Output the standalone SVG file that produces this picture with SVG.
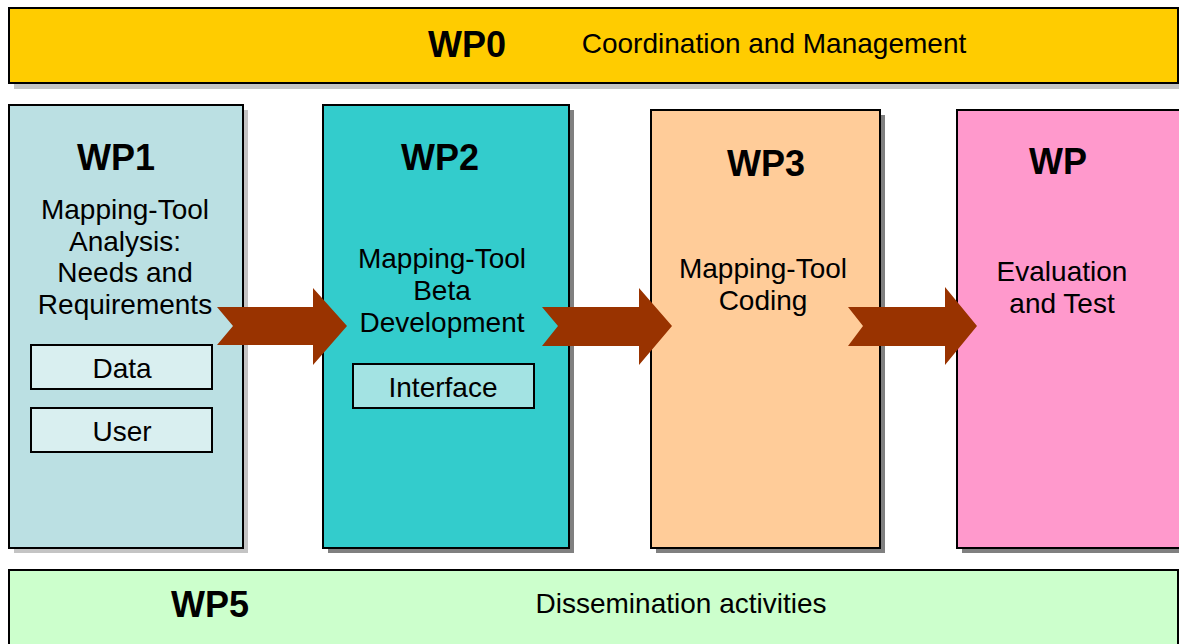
<svg xmlns="http://www.w3.org/2000/svg" width="1179" height="644" viewBox="0 0 1179 644">
<style>
.box{stroke:#000;stroke-width:2}
.sub{stroke:#000;stroke-width:2}
.shl{fill:#c4c4c4}
.shd{fill:#808080}
.t{font-family:"Liberation Sans",Arial,sans-serif;font-size:28px;fill:#000;text-anchor:middle}
.b{font-family:"Liberation Sans",Arial,sans-serif;font-size:36px;font-weight:bold;fill:#000;text-anchor:middle}
.arrow{fill:#993300}
</style>
<rect width="1179" height="644" fill="#fff"/>
<g id="wp0">
<rect class="shl" x="14" y="13" width="1170" height="76"/>
<rect class="box" x="9" y="8" width="1169" height="75" fill="#ffcc00"/>
<text class="b" x="467" y="57">WP0</text>
<text class="t" x="774" y="53">Coordination and Management</text>
</g>
<g id="wp1">
<rect class="shl" x="14" y="110" width="234" height="443"/>
<rect class="box" x="9" y="105" width="234" height="443" fill="#bbe0e3"/>
<text class="b" x="116" y="170">WP1</text>
<text class="t" x="125" y="219">Mapping-Tool</text>
<text class="t" x="125" y="251">Analysis:</text>
<text class="t" x="125" y="282">Needs and</text>
<text class="t" x="125" y="314">Requirements</text>
</g>
<g id="data">
<rect class="sub" x="31" y="345" width="181" height="44" fill="#d9eff0"/>
<text class="t" x="122" y="378">Data</text>
</g>
<g id="user">
<rect class="sub" x="31" y="408" width="181" height="44" fill="#d9eff0"/>
<text class="t" x="122" y="441">User</text>
</g>
<g id="wp2">
<rect class="shd" x="328" y="110" width="246" height="443"/>
<rect class="box" x="323" y="105" width="246" height="443" fill="#33cccc"/>
<text class="b" x="440" y="170">WP2</text>
<text class="t" x="442" y="268">Mapping-Tool</text>
<text class="t" x="442" y="300">Beta</text>
<text class="t" x="442" y="332">Development</text>
</g>
<g id="interface">
<rect class="sub" x="353" y="364" width="181" height="44" fill="#a3e3e3"/>
<text class="t" x="443" y="397">Interface</text>
</g>
<g id="wp3">
<rect class="shd" x="656" y="115" width="229" height="438"/>
<rect class="box" x="651" y="110" width="229" height="438" fill="#ffcc99"/>
<text class="b" x="766" y="176">WP3</text>
<text class="t" x="763" y="278">Mapping-Tool</text>
<text class="t" x="763" y="310">Coding</text>
</g>
<g id="wp4">
<rect class="shd" x="962" y="115" width="240" height="438"/>
<rect class="box" x="957" y="110" width="240" height="438" fill="#ff99cc"/>
<text class="b" x="1058" y="174">WP</text>
<text class="t" x="1062" y="281">Evaluation</text>
<text class="t" x="1062" y="313">and Test</text>
</g>
<g id="wp5">
<rect class="box" x="9" y="570" width="1169" height="85" fill="#ccffcc"/>
<text class="b" x="210" y="617">WP5</text>
<text class="t" x="681" y="613">Dissemination activities</text>
</g>
<g id="connectors">
<polygon class="arrow" points="217,307 313,307 313,288 347,326 313,365 313,345 217,345 233,326"/>
<polygon class="arrow" points="542,307 639,307 639,288 672,326 639,365 639,346 542,346 558,326"/>
<polygon class="arrow" points="848,307 945,307 945,287 977,326 945,365 945,346 848,346 863,326"/>
</g>
</svg>
